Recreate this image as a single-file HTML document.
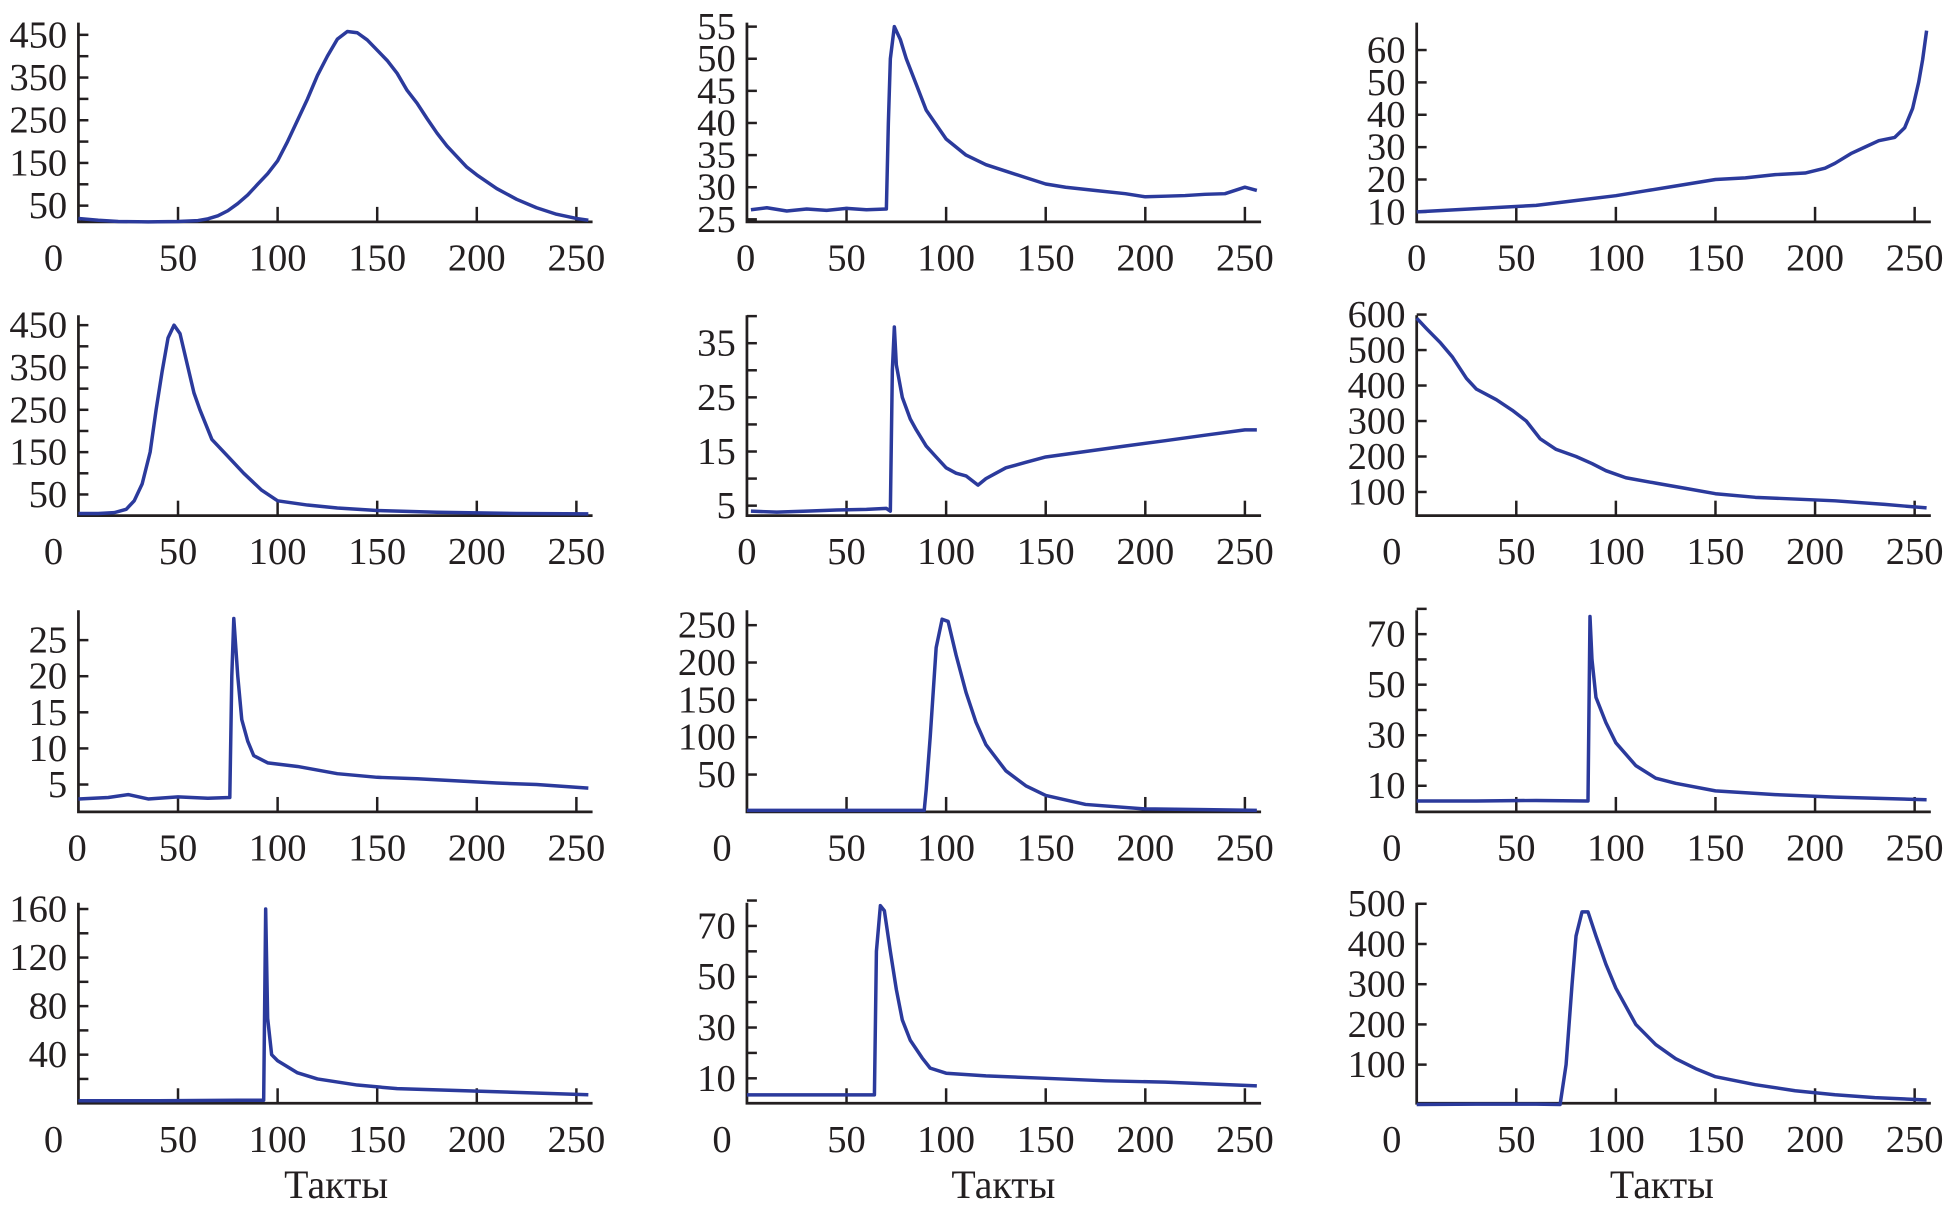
<!DOCTYPE html>
<html><head><meta charset="utf-8"><style>
html,body{margin:0;padding:0;background:#fff}
svg{display:block}
text{font-family:"Liberation Serif",serif;fill:#231f20}
</style></head><body>
<svg id="chart" width="1952" height="1213" viewBox="0 0 1568 974" xmlns="http://www.w3.org/2000/svg"></svg>
<script>
// ---- data (x = takt, y = value) ----
const p1x=[0,10,20,35,50,60,65,70,75,80,85,90,95,100,105,110,115,120,125,130,135,140,145,150,155,160,165,170,175,180,185,190,195,200,210,220,230,240,250,256];
const p1y=[20,16,13,12,13,15,19,26,38,55,75,100,125,155,200,250,300,355,400,440,458,455,438,414,390,360,320,290,254,220,190,165,140,122,90,65,45,30,20,16];
const p2x=[2,10,20,30,40,50,60,70,71,72,74,77,80,85,90,100,110,120,130,140,150,160,175,190,200,210,220,230,240,250,256];
const p2y=[26.5,26.8,26.3,26.6,26.4,26.7,26.5,26.6,40,50,55,53,50,46,42,37.5,35,33.5,32.5,31.5,30.5,30,29.5,29,28.5,28.6,28.7,28.9,29,30,29.5];
const p3x=[0,15,30,45,60,80,100,115,130,150,165,180,195,205,210,218,225,232,240,245,249,252,254,256];
const p3y=[10,10.5,11,11.5,12,13.5,15,16.5,18,20,20.5,21.5,22,23.5,25,28,30,32,33,36,42,50,57,66];
const p4x=[0,10,18,24,28,32,36,39,42,45,48,51,55,58,61,67,75,83,92,100,115,130,150,180,220,256];
const p4y=[5,5,7,15,35,75,150,250,340,420,450,430,350,290,250,180,140,100,60,35,25,18,12,8,5,4];
const p5x=[2,15,30,45,60,70,72,73,74,75,78,82,85,90,95,100,105,110,116,120,125,130,140,150,170,190,210,230,250,256];
const p5y=[4,3.8,4,4.2,4.3,4.5,4,30,38,31,25,21,19,16,14,12,11,10.5,8.8,10,11,12,13,14,15,16,17,18,19,19];
const p6x=[0,5,12,18,25,30,40,48,55,62,70,80,88,95,105,120,135,150,170,190,210,235,256];
const p6y=[590,560,520,480,420,390,360,330,300,250,220,200,180,160,140,125,110,95,85,80,75,65,55];
const p7x=[0,15,25,35,50,65,76,77,78,79,80,82,85,88,95,110,130,150,170,190,210,230,256];
const p7y=[3,3.2,3.6,3,3.3,3.1,3.2,20,28,24,20,14,11,9,8,7.5,6.5,6,5.8,5.5,5.2,5,4.5];
const p8x=[0,30,60,89,90,92,95,98,101,105,110,115,120,130,140,150,170,200,230,256];
const p8y=[2,2,2,2,30,100,220,258,255,210,160,120,90,55,35,22,10,4,3,2];
const p9x=[0,30,60,86,87,88,90,95,100,110,120,130,150,180,210,256];
const p9y=[4,4,4.2,4,77,60,45,35,27,18,13,11,8,6.5,5.5,4.5];
const p10x=[0,40,80,93,94,95,97,100,110,120,140,160,200,256];
const p10y=[2,2,2.5,2.5,160,70,40,35,25,20,15,12,10,7];
const p11x=[0,30,64,65,67,69,72,75,78,82,88,92,100,120,150,180,210,256];
const p11y=[3.5,3.5,3.5,60,78,76,60,45,33,25,18,14,12,11,10,9,8.5,7];
const p12x=[0,30,60,72,75,78,80,83,86,90,95,100,110,120,130,140,150,170,190,210,230,256];
const p12y=[1,2,2,1,100,300,420,480,480,420,350,290,200,150,115,90,70,50,35,25,18,12];

const yTicks=[
 [50,100,150,200,250,300,350,400,450],[25,30,35,40,45,50,55],[10,20,30,40,50,60],
 [50,100,150,200,250,300,350,400,450],[5,10,15,20,25,30,35,40],[100,200,300,400,500,600],
 [5,10,15,20,25],[50,100,150,200,250],[10,20,30,40,50,60,70,80],
 [20,40,60,80,100,120,140,160],[10,20,30,40,50,60,70,80],[100,200,300,400,500]];
const yLabels=[
 [50,150,250,350,450],[25,30,35,40,45,50,55],[10,20,30,40,50,60],
 [50,150,250,350,450],[5,15,25,35],[100,200,300,400,500,600],
 [5,10,15,20,25],[50,100,150,200,250],[10,30,50,70],
 [40,80,120,160],[10,30,50,70],[100,200,300,400,500]];
const xLabels=[50,100,150,200,250];

// ---- layout (pixels) ----
const colX=[63,600,1138];
const rowAxis=[178,414,652,886];
const rowTop=[18,253,490,725];
const yMap=[[50,165,0.343],[25,176,5.16],[10,170,2.6],
 [50,397,0.34],[5,406,4.35],[100,395,0.285],
 [5,630,5.8],[50,622,0.6],[10,631,2.03],
 [40,847,0.975],[10,866,2.04],[100,855,0.323]];
const zeroX=[[43,599,1138],[43,600,1118],[62,580,1118],[43,580,1118]];
const xs=[p1x,p2x,p3x,p4x,p5x,p6x,p7x,p8x,p9x,p10x,p11x,p12x];
const ys=[p1y,p2y,p3y,p4y,p5y,p6y,p7y,p8y,p9y,p10y,p11y,p12y];

const NS="http://www.w3.org/2000/svg";
const svg=document.getElementById('chart');
function mk(tag,attrs,parent){const e=document.createElementNS(NS,tag);for(const k in attrs)e.setAttribute(k,attrs[k]);parent.appendChild(e);return e;}

for(let i=0;i<12;i++){
  const r=Math.floor(i/3),c=i%3;
  const ax=colX[c],ay=rowAxis[r],top=rowTop[r];
  const m=yMap[i];
  const X=v=>ax+v*1.6;
  const Y=v=>m[1]-(v-m[0])*m[2];
  const g=mk('g',{},svg);
  
  
  const axes=mk('path',{d:`M${ax},${top}V${ay}H${ax+413}`,stroke:'#231f20','stroke-width':2.2,fill:'none'},g);
  
  
  yTicks[i].forEach(v=>{
    const t=mk('line',{x1:ax,x2:ax+8,y1:Y(v),y2:Y(v),stroke:'#231f20','stroke-width':2},g);
    
    
  });
  yLabels[i].forEach(v=>{
    const t=mk('text',{x:ax-9,y:Y(v)+10,'text-anchor':'end','font-size':31},g);
    
    
    t.textContent=v;
  });
  xLabels.forEach(v=>{
    const t=mk('line',{x1:X(v),x2:X(v),y1:ay,y2:ay-12,stroke:'#231f20','stroke-width':2},g);
    
    
    const l=mk('text',{x:X(v),y:ay+39,'text-anchor':'middle','font-size':31},g);
    
    
    l.textContent=v;
  });
  const z=mk('text',{x:zeroX[r][c],y:ay+39,'text-anchor':'middle','font-size':31},g);
  
  
  z.textContent='0';
  const pts=xs[i].map((x,k)=>X(x).toFixed(1)+','+Y(ys[i][k]).toFixed(1)).join(' ');
  const ln=mk('polyline',{points:pts,fill:'none',stroke:'#2b3a9c','stroke-width':2.8,'stroke-linejoin':'round'},g);
  
  
}
[270,806,1335].forEach(x=>{
  const t=mk('text',{x:x,y:962,'text-anchor':'middle','font-size':32},svg);
  
  
  t.textContent='Такты';
});
</script>
</body></html>
